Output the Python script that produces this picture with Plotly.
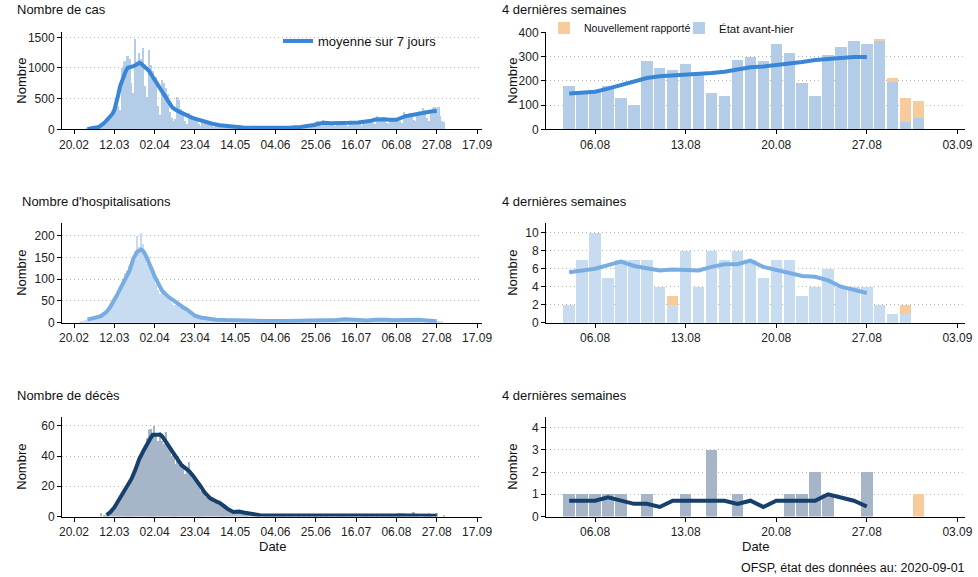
import pandas as pd
import plotly.graph_objects as go
from plotly.subplots import make_subplots

#---------------------------- data ----------------------------
# daily counts 24.02 -> 03.08, one line per week (monday first)
cas_debut = [
    1, 1, 4, 6, 8, 12, 15,
    30, 25, 50, 60, 110, 80, 90,
    190, 230, 260, 330, 450, 380, 320,
    1000, 1100, 1120, 1200, 1150, 750, 600,
    1470, 1100, 1250, 1150, 1320, 710, 520,
    1300, 1050, 950, 850, 850, 380, 240,
    800, 750, 680, 580, 290, 180, 130,
    170, 520, 480, 330, 230, 130, 90,
    260, 240, 210, 200, 170, 90, 55,
    150, 140, 130, 110, 90, 50, 35,
    80, 75, 65, 60, 45, 30, 20,
    55, 45, 40, 35, 35, 20, 12,
    35, 30, 30, 25, 20, 18, 10,
    30, 28, 25, 20, 30, 15, 10,
    12, 25, 30, 25, 30, 20, 12,
    30, 25, 30, 30, 35, 22, 15,
    35, 30, 40, 45, 45, 30, 22,
    60, 65, 80, 95, 130, 80, 55,
    150, 130, 115, 115, 120, 80, 60,
    110, 100, 110, 105, 115, 70, 50,
    120, 130, 120, 130, 130, 80, 60,
    150, 150, 140, 150, 170, 100, 80,
    220, 200, 190, 200, 180, 110, 80,
    180]

hosp_debut = [
    3, 5, 6, 7, 8, 9, 10,
    12, 13, 14, 15, 17, 18, 20,
    28, 32, 40, 50, 60, 65, 70,
    90, 100, 115, 120, 130, 140, 150,
    165, 200, 175, 205, 180, 150, 135,
    150, 130, 110, 100, 90, 75, 65,
    80, 75, 65, 60, 55, 45, 40,
    40, 50, 45, 40, 35, 30, 25,
    25, 22, 18, 16, 14, 10, 8,
    15, 13, 12, 10, 9, 7, 6,
    9, 8, 7, 6, 6, 4, 3,
    6, 5, 5, 5, 4, 3, 3,
    5, 4, 4, 4, 3, 3, 2,
    4, 4, 3, 4, 3, 2, 2,
    2, 4, 4, 3, 4, 3, 2,
    4, 4, 3, 4, 4, 3, 2,
    5, 4, 5, 4, 4, 3, 3,
    6, 5, 6, 5, 6, 4, 3,
    6, 5, 6, 6, 5, 4, 3,
    9, 8, 10, 9, 8, 6, 5,
    7, 6, 7, 6, 6, 4, 4,
    6, 5, 6, 5, 6, 4, 3,
    9, 8, 10, 9, 8, 6, 5,
    6]

deces_debut = [
    0, 0, 0, 0, 0, 0, 0,
    0, 0, 0, 2, 0, 1, 1,
    1, 3, 4, 6, 8, 10, 12,
    13, 15, 17, 19, 22, 26, 29,
    30, 33, 37, 40, 43, 47, 52,
    57, 58, 52, 60, 54, 50, 56,
    50, 48, 56, 47, 44, 40, 42,
    35, 38, 34, 36, 35, 28, 30,
    36, 30, 28, 25, 22, 20, 17,
    17, 15, 13, 12, 11, 10, 9,
    9, 8, 8, 7, 6, 5, 4,
    4, 3, 4, 3, 4, 3, 3,
    3, 2, 2, 2, 1, 1, 1,
    1, 1, 1, 0, 1, 1, 0,
    1, 0, 1, 1, 0, 1, 1,
    1, 1, 0, 1, 0, 1, 0,
    0, 1, 1, 0, 1, 0, 1,
    1, 0, 1, 1, 0, 0, 1,
    0, 1, 1, 0, 1, 0, 0,
    1, 0, 1, 1, 0, 1, 0,
    1, 1, 0, 1, 0, 0, 1,
    0, 1, 1, 0, 1, 1, 0,
    1, 0, 1, 1, 1, 0, 1,
    1]

# last 4 weeks 04.08 -> 31.08 : state two days ago + newly reported
cas_etat = [180, 155, 155, 180, 129, 99, 281, 255, 245, 271, 230, 148, 138, 288,
            298, 283, 351, 314, 192, 136, 308, 341, 366, 352, 367, 197, 30, 45]
cas_nouveau = [0, 0, 0, 0, 0, 0, 0, 0, 0, 0, 0, 0, 0, 0,
               0, 0, 0, 0, 0, 0, 0, 0, 0, 0, 4, 15, 99, 74]
hosp_etat = [2, 7, 10, 5, 7, 7, 7, 4, 2, 8, 4, 8, 7, 8,
             7, 5, 7, 7, 3, 4, 6, 4, 4, 4, 2, 1, 1, 0]
hosp_nouveau = [0, 0, 0, 0, 0, 0, 0, 0, 1, 0, 0, 0, 0, 0,
                0, 0, 0, 0, 0, 0, 0, 0, 0, 0, 0, 0, 1, 0]
deces_etat = [1, 1, 1, 1, 1, 0, 1, 0, 0, 1, 0, 3, 0, 1,
              0, 0, 0, 1, 1, 2, 1, 0, 0, 2, 0, 0, 0, 0]
deces_nouveau = [0, 0, 0, 0, 0, 0, 0, 0, 0, 0, 0, 0, 0, 0,
                 0, 0, 0, 0, 0, 0, 0, 0, 0, 0, 0, 0, 0, 1]

# 7 day mean, 04.08 -> 27.08
cas_moy_fin = [148, 150, 155, 168, 182, 196, 212, 219, 222, 225, 227, 233,
               238, 248, 256, 259, 264, 271, 278, 286, 290, 296, 299, 299]
hosp_moy_fin = [5.6, 5.8, 6.0, 6.4, 6.8, 6.3, 6.0, 5.8, 5.9, 5.8, 5.8, 6.2,
                6.5, 6.5, 6.9, 6.2, 5.9, 5.6, 5.2, 5.1, 4.7, 4.0, 3.7, 3.3]
deces_moy_fin = [0.71, 0.71, 0.71, 0.86, 0.71, 0.57, 0.57, 0.43, 0.71, 0.71, 0.71, 0.71,
                 0.71, 0.57, 0.71, 0.43, 0.71, 0.71, 0.71, 0.71, 1.0, 0.86, 0.71, 0.45]

# 7 day mean before 04.08
cas_moy_dates = ["2020-02-27", "2020-03-01", "2020-03-04", "2020-03-07", "2020-03-09", "2020-03-11",
                 "2020-03-12", "2020-03-13", "2020-03-14", "2020-03-15", "2020-03-16", "2020-03-17",
                 "2020-03-18", "2020-03-19", "2020-03-20", "2020-03-21", "2020-03-22", "2020-03-23",
                 "2020-03-24", "2020-03-25", "2020-03-26", "2020-03-27", "2020-03-28", "2020-03-29",
                 "2020-03-30", "2020-03-31", "2020-04-01", "2020-04-02", "2020-04-03", "2020-04-04",
                 "2020-04-05", "2020-04-06", "2020-04-07", "2020-04-08", "2020-04-09", "2020-04-10",
                 "2020-04-11", "2020-04-12", "2020-04-13", "2020-04-14", "2020-04-15", "2020-04-17",
                 "2020-04-19", "2020-04-21", "2020-04-23", "2020-04-26", "2020-04-29", "2020-05-02",
                 "2020-05-06", "2020-05-10", "2020-05-13", "2020-05-18", "2020-05-23", "2020-05-28",
                 "2020-06-02", "2020-06-07", "2020-06-12", "2020-06-17", "2020-06-21", "2020-06-24",
                 "2020-06-26", "2020-06-29", "2020-07-03", "2020-07-07", "2020-07-12", "2020-07-17",
                 "2020-07-21", "2020-07-24", "2020-07-26", "2020-07-29", "2020-07-31", "2020-08-02"]
cas_moy = [6, 15, 40, 110, 175, 250,
           311, 420, 556, 700, 800, 880,
           950, 1004, 1010, 1020, 1031, 1045,
           1070, 1086, 1070, 1047, 1010, 985,
           955, 905, 850, 802, 740, 690,
           650, 611, 560, 502, 450, 400,
           365, 338, 315, 300, 284, 255,
           220, 195, 175, 147, 112, 90,
           65, 48, 40, 30, 27, 24,
           24, 25, 30, 38, 50, 70,
           86, 108, 100, 98, 105, 112,
           125, 140, 158, 165, 163, 155]

hosp_moy_dates = ["2020-02-27", "2020-03-02", "2020-03-05", "2020-03-08", "2020-03-10", "2020-03-13",
                  "2020-03-16", "2020-03-18", "2020-03-20", "2020-03-22", "2020-03-24", "2020-03-26",
                  "2020-03-27", "2020-03-28", "2020-03-30", "2020-04-01", "2020-04-02", "2020-04-04",
                  "2020-04-06", "2020-04-09", "2020-04-12", "2020-04-14", "2020-04-17", "2020-04-19",
                  "2020-04-21", "2020-04-23", "2020-04-26", "2020-04-29", "2020-05-04", "2020-05-09",
                  "2020-05-20", "2020-05-30", "2020-06-10", "2020-06-20", "2020-06-25", "2020-07-01",
                  "2020-07-06", "2020-07-10", "2020-07-14", "2020-07-18", "2020-07-22", "2020-07-26",
                  "2020-07-29", "2020-08-01"]
hosp_moy = [7, 11, 15, 25, 37, 60,
            87, 105, 120, 148, 163, 168,
            165, 158, 140, 118, 106, 88,
            73, 60, 50, 44, 35, 30,
            22, 16, 12, 10, 7, 6,
            4, 4, 4, 4, 5, 5,
            6, 8, 7, 5, 5, 7,
            8, 7]

deces_moy_dates = ["2020-03-08", "2020-03-10", "2020-03-12", "2020-03-14", "2020-03-16", "2020-03-18",
                   "2020-03-21", "2020-03-23", "2020-03-25", "2020-03-27", "2020-03-29", "2020-03-31",
                   "2020-04-01", "2020-04-03", "2020-04-05", "2020-04-06", "2020-04-08", "2020-04-10",
                   "2020-04-12", "2020-04-14", "2020-04-16", "2020-04-18", "2020-04-20", "2020-04-22",
                   "2020-04-24", "2020-04-26", "2020-04-28", "2020-05-01", "2020-05-04", "2020-05-06",
                   "2020-05-08", "2020-05-10", "2020-05-13", "2020-05-16", "2020-05-19", "2020-05-22",
                   "2020-05-27", "2020-06-05", "2020-06-15", "2020-06-25", "2020-07-05", "2020-07-15",
                   "2020-07-25", "2020-08-01"]
deces_moy = [1, 3, 6, 10, 14, 19,
             25, 31, 38, 43, 48, 52,
             54, 54, 54, 53, 49, 45,
             41, 37, 34, 32, 30, 27,
             24, 20, 16, 12, 10, 9,
             7, 5, 3, 3.3, 2.5, 1.8,
             0.8, 0.7, 0.6, 0.6, 0.6, 0.6,
             0.7, 0.7]

jours_debut = pd.date_range("2020-02-24", "2020-08-03")
jours_fin = pd.date_range("2020-08-04", "2020-08-31")
jours_moy_fin = pd.date_range("2020-08-04", "2020-08-27")
jours_tout = jours_debut.append(jours_fin)

orange = "#f8cb9d"

#---------------------------- plotting ----------------------------
W, H = 978, 577


def fx(p):
    return p / W


def fy(p):
    return 1 - p / H


fig = make_subplots(rows=3, cols=2)


def ajoute(row, debut, etat, nouveau, moy_dates, moy, moy_fin, col_barre, col_ligne):
    moy_x = list(pd.to_datetime(moy_dates)) + list(jours_moy_fin)
    total_fin = [e + n for e, n in zip(etat, nouveau)]
    # whole period
    fig.add_trace(go.Bar(x=jours_tout, y=debut + total_fin, marker_color=col_barre,
                         marker_line_width=0, showlegend=False), row=row, col=1)
    fig.add_trace(go.Scatter(x=moy_x, y=moy + moy_fin, mode="lines", name="moyenne sur 7 jours",
                             line=dict(color=col_ligne, width=4), showlegend=(row == 1),
                             legend="legend"), row=row, col=1)
    # last 4 weeks
    fig.add_trace(go.Bar(x=jours_fin, y=etat, marker_color=col_barre, marker_line_width=0,
                         name="État avant-hier", showlegend=(row == 1), legend="legend3"),
                  row=row, col=2)
    fig.add_trace(go.Bar(x=jours_fin, y=nouveau, marker_color=orange, marker_line_width=0,
                         name="Nouvellement rapporté", showlegend=(row == 1), legend="legend2"),
                  row=row, col=2)
    fig.add_trace(go.Scatter(x=jours_moy_fin, y=moy_fin, mode="lines", showlegend=False,
                             line=dict(color=col_ligne, width=4)), row=row, col=2)


ajoute(1, cas_debut, cas_etat, cas_nouveau, cas_moy_dates, cas_moy, cas_moy_fin, "#b3cde9", "#3a86d6")
ajoute(2, hosp_debut, hosp_etat, hosp_nouveau, hosp_moy_dates, hosp_moy, hosp_moy_fin, "#c8dcf1", "#78ade4")
ajoute(3, deces_debut, deces_etat, deces_nouveau, deces_moy_dates, deces_moy, deces_moy_fin, "#a6b5c8", "#173f6c")

# panel positions in pixels (top, bottom)
rows_px = {1: (32, 129.3), 2: (223, 322.7), 3: (417, 516.5)}
y_max = {(1, 1): 1587, (1, 2): 402, (2, 1): 229, (2, 2): 11.08, (3, 1): 65.8, (3, 2): 4.48}
y_dtick = {(1, 1): 500, (1, 2): 100, (2, 1): 50, (2, 2): 2, (3, 1): 20, (3, 2): 1}

axe = dict(showline=True, linecolor="black", linewidth=1, ticks="outside", ticklen=4,
           tickcolor="black", zeroline=False, automargin=False, tickfont=dict(size=12, color="#222"))

for r in (1, 2, 3):
    top, bot = rows_px[r]
    for c in (1, 2):
        if c == 1:
            fig.update_xaxes(axe, domain=[fx(62), fx(482)], showgrid=False, tickformat="%d.%m",
                             range=["2020-02-13 18:00", "2020-09-19 14:00"],
                             tick0="2020-02-20", dtick=21 * 86400000, row=r, col=c)
        else:
            fig.update_xaxes(axe, domain=[fx(546), fx(965)], showgrid=False, tickformat="%d.%m",
                             range=["2020-08-02 05:00", "2020-09-03 14:00"],
                             tick0="2020-08-06", dtick=7 * 86400000, row=r, col=c)
        fig.update_yaxes(axe, domain=[fy(bot), fy(top)], range=[0, y_max[(r, c)]],
                         tick0=0, dtick=y_dtick[(r, c)], showgrid=True, gridcolor="#b4b4b4",
                         griddash="1px,3px", gridwidth=1, row=r, col=c)

titres = [("Nombre de cas", 15, 10), ("4 dernières semaines", 500, 10),
          ("Nombre d'hospitalisations", 20, 202), ("4 dernières semaines", 500, 202),
          ("Nombre de décès", 15, 395), ("4 dernières semaines", 500, 395)]
annotations = []
for txt, x, y in titres:
    annotations.append(dict(text=txt, x=fx(x), y=fy(y), xref="paper", yref="paper",
                            xanchor="left", yanchor="middle", showarrow=False,
                            font=dict(size=13, color="#111")))
for r in (1, 2, 3):
    top, bot = rows_px[r]
    for x in (22, 513):
        annotations.append(dict(text="Nombre", x=fx(x), y=fy((top + bot) / 2), xref="paper",
                                yref="paper", xanchor="center", yanchor="middle", textangle=-90,
                                showarrow=False, font=dict(size=13, color="#111")))
for x in (272, 755):
    annotations.append(dict(text="Date", x=fx(x), y=fy(546), xref="paper", yref="paper",
                            xanchor="center", yanchor="middle", showarrow=False,
                            font=dict(size=13, color="#111")))
annotations.append(dict(text="OFSP, état des données au: 2020-09-01", x=fx(967), y=fy(568),
                        xref="paper", yref="paper", xanchor="right", yanchor="middle",
                        showarrow=False, font=dict(size=12.5, color="#111")))

fig.update_layout(
    width=W, height=H, margin=dict(l=0, r=0, t=0, b=0),
    barmode="stack", bargap=0.12,
    plot_bgcolor="white", paper_bgcolor="white",
    font=dict(family="Liberation Sans, Arial, sans-serif", size=11, color="#222"),
    annotations=annotations,
    legend=dict(x=fx(278), y=fy(41), xanchor="left", yanchor="middle", itemwidth=30,
                bgcolor="rgba(0,0,0,0)", font=dict(size=13, color="#111")),
    legend2=dict(x=fx(544), y=fy(28), xanchor="left", yanchor="middle", itemwidth=30,
                 bgcolor="rgba(0,0,0,0)", font=dict(size=10.5, color="#111")),
    legend3=dict(x=fx(679), y=fy(28), xanchor="left", yanchor="middle", itemwidth=30,
                 bgcolor="rgba(0,0,0,0)", font=dict(size=11.5, color="#111")),
)

# body margin 0 so the figure fills the window like the original report
fig.write_html("out.html", config={"displayModeBar": False},
               post_script="document.body.style.margin = '0';")
